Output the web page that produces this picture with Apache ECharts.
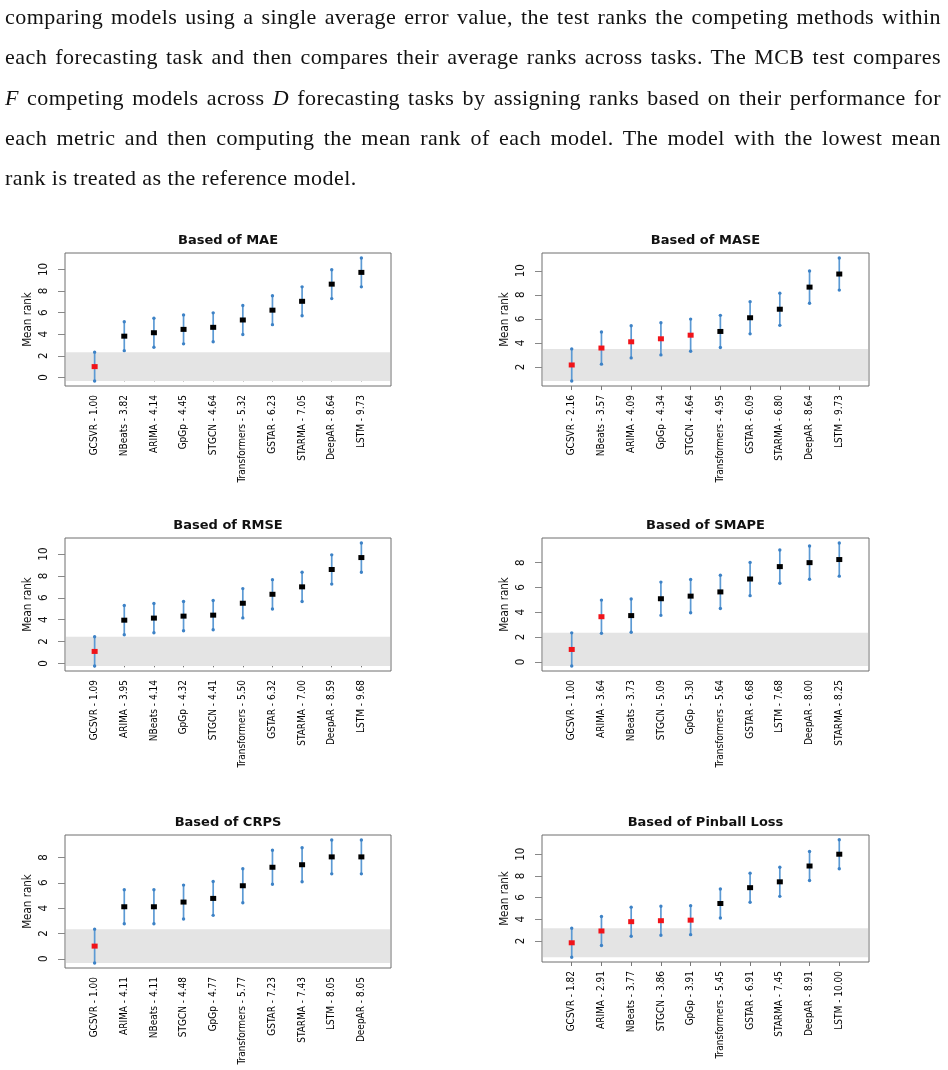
<!DOCTYPE html>
<html>
<head>
<meta charset="utf-8">
<script src="https://cdn.jsdelivr.net/npm/echarts@6/dist/echarts.min.js"></script>
<style>
  body { margin: 0; background: #fff; }
  #chart { position: absolute; left: 0; top: 0; width: 948px; height: 1070px; }
  #para {
    position: absolute; left: 5px; top: -3px; width: 936px;
    font-family: "Liberation Serif", "DejaVu Serif", serif; font-size: 22px;
    letter-spacing: 0.45px; line-height: 40.3px; color: #111; pointer-events: none;
  }
  #para div { text-align: justify; text-align-last: justify; white-space: nowrap; }
  #para div.last { text-align: left; text-align-last: left; }
</style>
</head>
<body>
<div id="chart"></div>
<div id="para">
  <div>comparing models using a single average error value, the test ranks the competing methods within</div>
  <div>each forecasting task and then compares their average ranks across tasks. The MCB test compares</div>
  <div><i>F</i> competing models across <i>D</i> forecasting tasks by assigning ranks based on their performance for</div>
  <div>each metric and then computing the mean rank of each model. The model with the lowest mean</div>
  <div class="last">rank is treated as the reference model.</div>
</div>
<script>
// mean ranks per metric, in the order drawn
const maeModels = ['GCSVR', 'NBeats', 'ARIMA', 'GpGp', 'STGCN', 'Transformers', 'GSTAR', 'STARMA', 'DeepAR', 'LSTM']
const maeRanks = [1.00, 3.82, 4.14, 4.45, 4.64, 5.32, 6.23, 7.05, 8.64, 9.73]
const maeTicks = [0, 2, 4, 6, 8, 10]

const maseModels = ['GCSVR', 'NBeats', 'ARIMA', 'GpGp', 'STGCN', 'Transformers', 'GSTAR', 'STARMA', 'DeepAR', 'LSTM']
const maseRanks = [2.16, 3.57, 4.09, 4.34, 4.64, 4.95, 6.09, 6.80, 8.64, 9.73]
const maseTicks = [2, 4, 6, 8, 10]

const rmseModels = ['GCSVR', 'ARIMA', 'NBeats', 'GpGp', 'STGCN', 'Transformers', 'GSTAR', 'STARMA', 'DeepAR', 'LSTM']
const rmseRanks = [1.09, 3.95, 4.14, 4.32, 4.41, 5.50, 6.32, 7.00, 8.59, 9.68]
const rmseTicks = [0, 2, 4, 6, 8, 10]

const smapeModels = ['GCSVR', 'ARIMA', 'NBeats', 'STGCN', 'GpGp', 'Transformers', 'GSTAR', 'LSTM', 'DeepAR', 'STARMA']
const smapeRanks = [1.00, 3.64, 3.73, 5.09, 5.30, 5.64, 6.68, 7.68, 8.00, 8.25]
const smapeTicks = [0, 2, 4, 6, 8]

const crpsModels = ['GCSVR', 'ARIMA', 'NBeats', 'STGCN', 'GpGp', 'Transformers', 'GSTAR', 'STARMA', 'LSTM', 'DeepAR']
const crpsRanks = [1.00, 4.11, 4.11, 4.48, 4.77, 5.77, 7.23, 7.43, 8.05, 8.05]
const crpsTicks = [0, 2, 4, 6, 8]

const pinballModels = ['GCSVR', 'ARIMA', 'NBeats', 'STGCN', 'GpGp', 'Transformers', 'GSTAR', 'STARMA', 'DeepAR', 'LSTM']
const pinballRanks = [1.82, 2.91, 3.77, 3.86, 3.91, 5.45, 6.91, 7.45, 8.91, 10.00]
const pinballTicks = [2, 4, 6, 8, 10]

// half width of the MCB interval (critical distance)
const critDist = 1.34

const panels = [
  { title: 'Based of MAE', models: maeModels, ranks: maeRanks, ticks: maeTicks, box: [65, 253, 326, 133] },
  { title: 'Based of MASE', models: maseModels, ranks: maseRanks, ticks: maseTicks, box: [542, 253, 327, 133] },
  { title: 'Based of RMSE', models: rmseModels, ranks: rmseRanks, ticks: rmseTicks, box: [65, 538, 326, 133] },
  { title: 'Based of SMAPE', models: smapeModels, ranks: smapeRanks, ticks: smapeTicks, box: [542, 538, 327, 133] },
  { title: 'Based of CRPS', models: crpsModels, ranks: crpsRanks, ticks: crpsTicks, box: [65, 835, 326, 133] },
  { title: 'Based of Pinball Loss', models: pinballModels, ranks: pinballRanks, ticks: pinballTicks, box: [542, 835, 327, 127] }
]

const narrow = '"Liberation Sans Narrow", "DejaVu Sans Condensed", "Arial Narrow", sans-serif'
const barColor = '#5c9ad4'
const endColor = '#3d82c6'

var grid = [], xAxis = [], yAxis = [], series = [], graphic = []

panels.forEach(function (p, i) {
  var lo = Math.min.apply(null, p.ranks) - critDist
  var hi = Math.max.apply(null, p.ranks) + critDist
  var pad = (hi - lo) * 0.04
  var best = p.ranks[0]

  grid.push({
    left: p.box[0], top: p.box[1], width: p.box[2], height: p.box[3],
    show: true, borderColor: '#6f6f6f', borderWidth: 1, backgroundColor: 'transparent'
  })
  graphic.push({
    type: 'text', x: p.box[0] + p.box[2] / 2, y: p.box[1] - 12,
    style: {
      text: p.title, align: 'center', verticalAlign: 'middle',
      font: 'bold 13px "DejaVu Sans", sans-serif', fill: '#111'
    }
  })

  var labels = p.models.map(function (m, k) { return m + ' - ' + p.ranks[k].toFixed(2) })
  xAxis.push({
    gridIndex: i, type: 'category', boundaryGap: false,
    data: [''].concat(labels, ['']),
    axisLine: { show: false },
    axisTick: {
      show: true, length: 4, lineStyle: { color: '#777' },
      interval: function (k) { return k > 0 && k < labels.length + 1 }
    },
    axisLabel: {
      interval: 0, rotate: 90, margin: 9,
      fontFamily: narrow, fontSize: 10, color: '#000'
    },
    splitLine: { show: false }
  })
  yAxis.push({
    gridIndex: i, type: 'value',
    min: lo - pad, max: hi + pad,
    name: 'Mean rank', nameLocation: 'middle', nameGap: 31, nameRotate: 90,
    nameTextStyle: { fontFamily: narrow, fontSize: 11.5, color: '#111' },
    axisLine: { show: false },
    axisTick: { show: true, length: 7, customValues: p.ticks, lineStyle: { color: '#888' } },
    axisLabel: {
      rotate: 90, margin: 15, customValues: p.ticks,
      fontFamily: narrow, fontSize: 11.5, color: '#111'
    },
    splitLine: { show: false }
  })

  // grey band: interval of the best-ranked model
  series.push({
    type: 'custom', xAxisIndex: i, yAxisIndex: i, z: 1, silent: true,
    data: [[0, best - critDist, best + critDist]],
    encode: { x: 0, y: [1, 2] },
    renderItem: function (params, api) {
      var cs = params.coordSys
      var y1 = api.coord([0, api.value(1)])[1]
      var y2 = api.coord([0, api.value(2)])[1]
      return {
        type: 'rect',
        shape: { x: cs.x + 1, y: Math.min(y1, y2), width: cs.width - 2, height: Math.abs(y2 - y1) },
        style: { fill: '#e4e4e4' }
      }
    }
  })

  // interval whiskers
  series.push({
    type: 'custom', xAxisIndex: i, yAxisIndex: i, z: 2, silent: true,
    data: p.ranks.map(function (r, k) { return [k + 1, r - critDist, r + critDist] }),
    encode: { x: 0, y: [1, 2] },
    renderItem: function (params, api) {
      var top = api.coord([api.value(0), api.value(2)])
      var bot = api.coord([api.value(0), api.value(1)])
      return {
        type: 'group',
        children: [
          { type: 'line', shape: { x1: top[0], y1: top[1], x2: bot[0], y2: bot[1] },
            style: { stroke: barColor, lineWidth: 1.7 } },
          { type: 'circle', shape: { cx: top[0], cy: top[1], r: 1.7 }, style: { fill: endColor } },
          { type: 'circle', shape: { cx: bot[0], cy: bot[1], r: 1.7 }, style: { fill: endColor } }
        ]
      }
    }
  })

  // mean rank markers: red when the interval overlaps the best model's interval
  series.push({
    type: 'scatter', xAxisIndex: i, yAxisIndex: i, z: 3, silent: true,
    symbol: 'rect', symbolSize: [6, 5],
    data: p.ranks.map(function (r, k) {
      var overlap = r - critDist < best + critDist
      return { value: [k + 1, r], itemStyle: { color: overlap ? '#f0141a' : '#000000', opacity: 1 } }
    })
  })
})

var chart = echarts.init(document.getElementById('chart'))
chart.setOption({
  animation: false,
  grid: grid,
  xAxis: xAxis,
  yAxis: yAxis,
  series: series,
  graphic: graphic
})
</script>
</body>
</html>
